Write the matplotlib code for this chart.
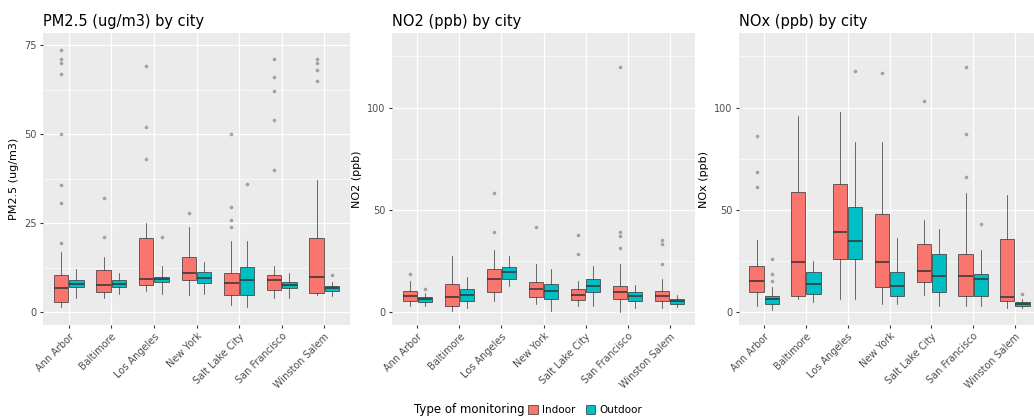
import matplotlib
matplotlib.use("Agg")
import matplotlib.pyplot as plt
from matplotlib.patches import Patch

cities = ["Ann Arbor", "Baltimore", "Los Angeles", "New York", "Salt Lake City",
          "San Francisco", "Winston Salem"]
groups = ["Indoor", "Outdoor"]
colors = {"Indoor": "#F8766D", "Outdoor": "#00BFC4"}

# ---- PM2.5 (ug/m3) ----
pm25_in_lo = [1.4, 3.9, 6.0, 4.8, 2.0, 4.0, 4.8]
pm25_in_q1 = [2.8, 5.6, 7.6, 9.0, 4.8, 6.2, 5.3]
pm25_in_med = [6.7, 7.6, 9.3, 11.0, 8.1, 9.0, 9.8]
pm25_in_q3 = [10.4, 11.8, 20.8, 15.4, 11.0, 10.4, 20.8]
pm25_in_hi = [17.0, 15.4, 25.0, 24.0, 20.0, 13.0, 37.0]
pm25_in_fl = [[19.4, 30.6, 35.7, 50, 67, 70, 71, 73.6], [21, 32], [43, 52, 69],
              [27.8], [24, 26, 29.5, 50], [40, 54, 62, 66, 71], [65, 68, 70, 71]]
pm25_out_lo = [4.0, 5.0, 5.0, 5.0, 1.5, 4.0, 4.5]
pm25_out_q1 = [7.0, 7.0, 8.4, 8.1, 4.8, 6.7, 5.9]
pm25_out_med = [7.9, 7.9, 9.3, 9.5, 9.0, 7.6, 6.7]
pm25_out_q3 = [9.0, 9.0, 9.8, 11.2, 12.6, 8.4, 7.3]
pm25_out_hi = [12.0, 11.0, 13.0, 14.0, 20.0, 11.0, 8.5]
pm25_out_fl = [[], [], [21], [], [36], [], [10.4]]

# ---- NO2 (ppb) ----
no2_in_lo = [3, 0.5, 5.4, 4, 3, 0, 2]
no2_in_q1 = [5.4, 2.9, 9.8, 7.4, 5.9, 6.4, 5.4]
no2_in_med = [7.8, 7.4, 16, 11.3, 8.3, 9.8, 7.8]
no2_in_q3 = [10.3, 13.7, 21, 14.7, 11.3, 12.7, 10.3]
no2_in_hi = [15, 27.5, 30, 23.5, 15, 23.5, 16]
no2_in_fl = [[18.6], [], [39, 58], [41.7], [28.4, 37.7], [31, 37, 39, 120], [23.5, 33, 35]]
no2_out_lo = [3, 2, 12.7, 0.5, 3, 2, 2.5]
no2_out_q1 = [4.9, 5.4, 16, 6.4, 9.8, 5.4, 3.9]
no2_out_med = [6.4, 8.3, 19.6, 10.3, 12.7, 7.8, 5.4]
no2_out_q3 = [7.4, 11.3, 22, 13.7, 16.2, 9.8, 6.4]
no2_out_hi = [9, 17, 27.5, 21, 22.5, 13, 8]
no2_out_fl = [[11], [], [], [], [], [], []]

# ---- NOx (ppb) ----
nox_in_lo = [3, 6.4, 6.4, 3.9, 8, 3, 2]
nox_in_q1 = [9.8, 7.8, 26, 12.3, 14.7, 7.8, 5.4]
nox_in_med = [15.2, 24.5, 39, 24.5, 20, 17.6, 7.4]
nox_in_q3 = [22.5, 58.8, 62.7, 48, 33.3, 28.4, 35.8]
nox_in_hi = [35, 96, 98, 83, 45, 58, 57]
nox_in_fl = [[61, 68.6, 86], [], [], [117], [103], [66, 87, 120], []]
nox_out_lo = [1, 5, 6.4, 3.9, 3, 3, 2]
nox_out_q1 = [3.9, 8.8, 26, 7.8, 9.8, 7.8, 3]
nox_out_med = [6.4, 13.7, 34.8, 12.7, 17.6, 16, 3.9]
nox_out_q3 = [7.8, 19.6, 51.5, 19.6, 28.4, 18.6, 4.9]
nox_out_hi = [12, 25, 83, 36, 40.7, 30, 6]
nox_out_fl = [[15, 18.6, 26], [], [118], [], [], [43], [8.8]]

titles = ["PM2.5 (ug/m3) by city", "NO2 (ppb) by city", "NOx (ppb) by city"]
ylabels = ["PM2.5 (ug/m3)", "NO2 (ppb)", "NOx (ppb)"]
yticks_list = [[0, 25, 50, 75], [0, 50, 100], [0, 50, 100]]


def make_stats(lo, q1, med, q3, hi, fl):
    return [dict(whislo=a, q1=b, med=c, q3=d, whishi=e, fliers=f)
            for a, b, c, d, e, f in zip(lo, q1, med, q3, hi, fl)]


panels = [
    (make_stats(pm25_in_lo, pm25_in_q1, pm25_in_med, pm25_in_q3, pm25_in_hi, pm25_in_fl),
     make_stats(pm25_out_lo, pm25_out_q1, pm25_out_med, pm25_out_q3, pm25_out_hi, pm25_out_fl),
     (-3.6, 78.4)),
    (make_stats(no2_in_lo, no2_in_q1, no2_in_med, no2_in_q3, no2_in_hi, no2_in_fl),
     make_stats(no2_out_lo, no2_out_q1, no2_out_med, no2_out_q3, no2_out_hi, no2_out_fl),
     (-6.5, 136.5)),
    (make_stats(nox_in_lo, nox_in_q1, nox_in_med, nox_in_q3, nox_in_hi, nox_in_fl),
     make_stats(nox_out_lo, nox_out_q1, nox_out_med, nox_out_q3, nox_out_hi, nox_out_fl),
     (-6.5, 136.5)),
]

W, H = 1034, 420
fig = plt.figure(figsize=(W / 100, H / 100), dpi=100)
fig.patch.set_facecolor("white")

panel_px = [(43, 350), (392, 695), (739, 1040)]
top_px, bot_px = 33, 325

for i, ((st_in, st_out, ylim), (x0, x1)) in enumerate(zip(panels, panel_px)):
    ax = fig.add_axes([x0 / W, 1 - bot_px / H, (x1 - x0) / W, (bot_px - top_px) / H])
    ax.set_facecolor("#EBEBEB")
    for s in ax.spines.values():
        s.set_visible(False)
    ax.set_axisbelow(True)
    pos = list(range(1, len(cities) + 1))
    for stats, off, g in ((st_in, -0.18, "Indoor"), (st_out, 0.18, "Outdoor")):
        ax.bxp(stats, positions=[p + off for p in pos], widths=0.34,
               patch_artist=True, showcaps=False, showfliers=True,
               boxprops=dict(facecolor=colors[g], edgecolor="#333333", linewidth=0.5),
               medianprops=dict(color="#333333", linewidth=1.1),
               whiskerprops=dict(color="#333333", linewidth=0.5),
               flierprops=dict(marker="o", markersize=2.6, markerfacecolor="#333333",
                               markeredgecolor="none", alpha=0.4))
    ax.set_xlim(0.4, 7.6)
    ax.set_ylim(*ylim)
    yt = yticks_list[i]
    ax.set_yticks(yt)
    ax.set_yticklabels([str(v) for v in yt])
    minor = [(a + b) / 2 for a, b in zip(yt[:-1], yt[1:])]
    minor.append(yt[-1] + (yt[1] - yt[0]) / 2)
    ax.set_yticks([m for m in minor if m < ylim[1]], minor=True)
    ax.set_xticks(pos)
    ax.set_xticklabels(cities, rotation=45, ha="right", rotation_mode="anchor")
    ax.grid(which="major", color="white", linewidth=0.9)
    ax.grid(which="minor", axis="y", color="white", linewidth=0.45)
    ax.tick_params(axis="both", which="major", length=2.5, color="#333333",
                   labelsize=7, labelcolor="#4D4D4D", pad=2)
    ax.tick_params(axis="both", which="minor", length=0)
    ax.set_ylabel(ylabels[i], fontsize=8, labelpad=4)
    ax.set_title(titles[i], loc="left", fontsize=10.5, pad=5)

# legend at bottom
fig.text(525 / W, 1 - 410 / H, "Type of monitoring", fontsize=8.5, ha="right", va="center")
handles = [Patch(facecolor=colors[g], edgecolor="#333333", linewidth=0.5, label=g) for g in groups]
fig.legend(handles=handles, loc="center left", bbox_to_anchor=(523 / W, 1 - 410 / H),
           ncol=2, frameon=False, fontsize=7.5, handlelength=0.9, handleheight=0.9,
           handletextpad=0.4, columnspacing=1.0, borderpad=0)

fig.savefig("out.png", dpi=100)
